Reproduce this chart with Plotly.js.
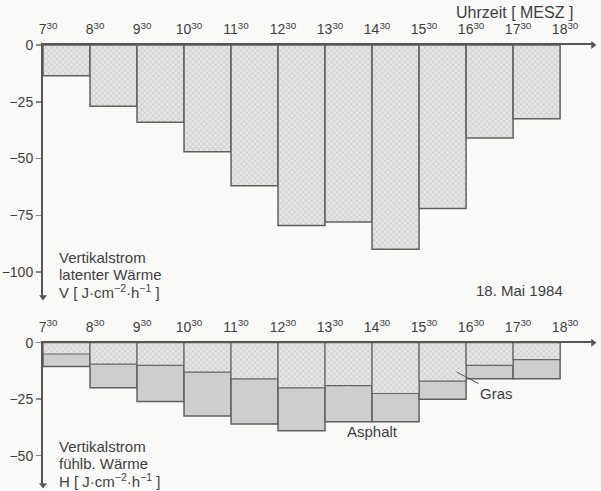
<!DOCTYPE html>
<html>
<head>
<meta charset="utf-8">
<script src="https://cdn.plot.ly/plotly-3.0.1.min.js"></script>
<style>html,body{margin:0;padding:0;background:#f9f9f8;}#chart{width:601px;height:491px;}</style>
</head>
<body>
<div id="chart"></div>
<script>
// ---- data ----
const tickHours = [7, 8, 9, 10, 11, 12, 13, 14, 15, 16, 17, 18];
const tickMinute = "30";
const intervalMid = [8, 9, 10, 11, 12, 13, 14, 15, 16, 17, 18]; // 7:30-8:30 ... 17:30-18:30
const latentV = [-13.5, -27, -34, -47, -62, -79.5, -78, -90, -72, -41, -32.5];
const grasH = [-5, -9.5, -10, -13, -16, -20, -19, -22.5, -17, -10, -7.5];
const asphaltH = [-10.5, -20, -26, -32.5, -36, -39, -35, -35, -25, -16, -16];
const yTicksTop = [0, -25, -50, -75, -100];
const yTicksBot = [0, -25, -50];
const labelTop = ['Vertikalstrom', 'latenter Wärme', 'V [ J·cm<sup>−2</sup>·h<sup>−1</sup> ]'];
const labelBot = ['Vertikalstrom', 'fühlb. Wärme', 'H [ J·cm<sup>−2</sup>·h<sup>−1</sup> ]'];

const tickVals = tickHours.map(h => h + 0.5);
const tickText = tickHours.map(h => h + "<sup>" + tickMinute + "</sup>");

const axisCol = '#555';
const txtCol = '#3f3f3f';
const fontNarrow = 'Liberation Sans Narrow, Arial Narrow, Liberation Sans, sans-serif';
const fontText = 'Liberation Sans, Arial, Helvetica, sans-serif';

const patternLight = {shape: 'x', size: 4, solidity: 0.15, fgcolor: '#a0a0a0', bgcolor: '#e5e5e5', fillmode: 'replace'};

const xRange = [7.5, 19.2];
const yRangeTop = [-111, 0];
const yRangeBot = [-63, 0];

const traces = [
  {type: 'bar', x: intervalMid, y: latentV, width: 1, xaxis: 'x', yaxis: 'y',
   marker: {color: '#dadada', pattern: patternLight, line: {color: '#606060', width: 1.5}},
   hoverinfo: 'x+y', showlegend: false},
  {type: 'bar', x: intervalMid, y: asphaltH, width: 1, xaxis: 'x2', yaxis: 'y2', name: 'Asphalt',
   marker: {color: '#cecece', line: {color: '#606060', width: 1.5}}, showlegend: false},
  {type: 'bar', x: intervalMid, y: grasH, width: 1, xaxis: 'x2', yaxis: 'y2', name: 'Gras',
   marker: {color: '#e2e2e2', pattern: patternLight, line: {color: '#666', width: 1.2}}, showlegend: false},
  // axis arrowheads
  {type: 'scatter', mode: 'markers', x: [xRange[1]], y: [0], xaxis: 'x', yaxis: 'y', cliponaxis: false,
   marker: {symbol: 'triangle-right', size: 7, color: axisCol}, hoverinfo: 'skip', showlegend: false},
  {type: 'scatter', mode: 'markers', x: [xRange[0]], y: [yRangeTop[0]], xaxis: 'x', yaxis: 'y', cliponaxis: false,
   marker: {symbol: 'triangle-down', size: 7, color: axisCol}, hoverinfo: 'skip', showlegend: false},
  {type: 'scatter', mode: 'markers', x: [xRange[1]], y: [0], xaxis: 'x2', yaxis: 'y2', cliponaxis: false,
   marker: {symbol: 'triangle-right', size: 7, color: axisCol}, hoverinfo: 'skip', showlegend: false},
  {type: 'scatter', mode: 'markers', x: [xRange[0]], y: [yRangeBot[0]], xaxis: 'x2', yaxis: 'y2', cliponaxis: false,
   marker: {symbol: 'triangle-down', size: 7, color: axisCol}, hoverinfo: 'skip', showlegend: false}
];

function xAxis(anchor) {
  return {anchor: anchor, side: 'top', range: xRange, domain: [43/601, 593/601],
    showline: true, linecolor: axisCol, linewidth: 2, showgrid: false, zeroline: false,
    tickmode: 'array', tickvals: tickVals, ticktext: tickText, ticks: '',
    ticklabelshift: 5, ticklabelstandoff: 3,
    tickfont: {family: fontNarrow, size: 14, color: txtCol}, fixedrange: true};
}
function yAxis(anchor, range, dom, ticks) {
  return {anchor: anchor, range: range, domain: dom, showline: true, linecolor: axisCol, linewidth: 2,
    showgrid: false, zeroline: false, tickmode: 'array', tickvals: ticks,
    ticks: 'outside', ticklen: 5, tickwidth: 1.5, tickcolor: '#888',
    tickfont: {family: fontNarrow, size: 14, color: txtCol}, fixedrange: true};
}

const annotations = [
  {xref: 'paper', yref: 'paper', x: 514/601, y: 1 - 13/491, xanchor: 'center', yanchor: 'middle', showarrow: false,
   text: 'Uhrzeit [ MESZ ]', font: {family: fontText, size: 16, color: txtCol}},
  {xref: 'paper', yref: 'paper', x: 519/601, y: 1 - 290/491, xanchor: 'center', yanchor: 'middle', showarrow: false,
   text: '18. Mai 1984', font: {family: fontText, size: 15, color: txtCol}},
  {xref: 'x2', yref: 'y2', x: 16.3, y: -13, ax: 40, ay: 21, showarrow: true, arrowhead: 0, arrowwidth: 1, arrowcolor: '#555',
   text: 'Gras', xanchor: 'center', yanchor: 'middle', font: {family: fontText, size: 15, color: txtCol}},
  {xref: 'x2', yref: 'y2', x: 14.5, y: asphaltH[6], yshift: -10, showarrow: false,
   text: 'Asphalt', xanchor: 'center', yanchor: 'middle', font: {family: fontText, size: 15, color: txtCol}}
];
labelTop.forEach((t, i) => annotations.push({xref: 'paper', yref: 'paper', x: 58/601, y: 1 - (257 + i * 17)/491,
  xanchor: 'left', yanchor: 'middle', showarrow: false, borderpad: 0, text: t, font: {family: fontText, size: 15, color: txtCol}}));
labelBot.forEach((t, i) => annotations.push({xref: 'paper', yref: 'paper', x: 58/601, y: 1 - (446 + i * 17)/491,
  xanchor: 'left', yanchor: 'middle', showarrow: false, borderpad: 0, text: t, font: {family: fontText, size: 15, color: txtCol}}));

const layout = {
  width: 601, height: 491,
  margin: {l: 0, r: 0, t: 0, b: 0},
  paper_bgcolor: '#f9f9f8', plot_bgcolor: 'rgba(0,0,0,0)',
  barmode: 'overlay', bargap: 0,
  showlegend: false,
  xaxis: xAxis('y'),
  yaxis: yAxis('x', yRangeTop, [1 - 297/491, 1 - 45/491], yTicksTop),
  xaxis2: xAxis('y2'),
  yaxis2: yAxis('x2', yRangeBot, [1 - 485/491, 1 - 342.7/491], yTicksBot),
  annotations: annotations
};

Plotly.newPlot('chart', traces, layout, {displayModeBar: false, staticPlot: true});
</script>
</body>
</html>
